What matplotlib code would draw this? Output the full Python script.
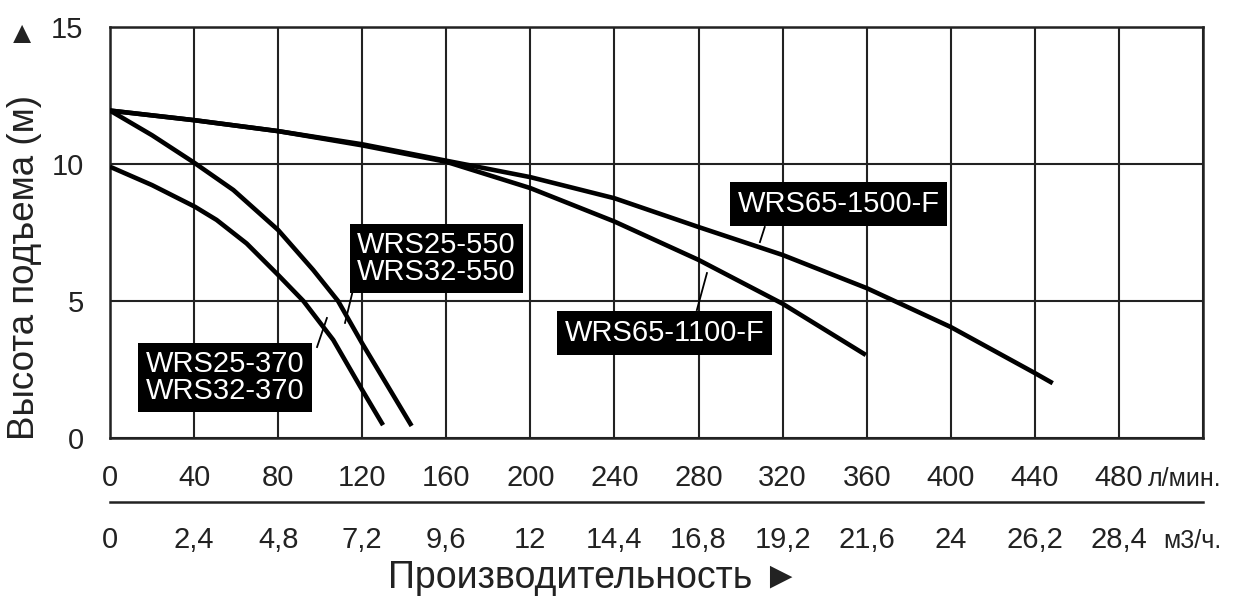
import matplotlib
matplotlib.use("Agg")
import matplotlib.pyplot as plt
import numpy as np

plt.rcParams['font.family'] = ['Liberation Sans', 'DejaVu Sans']

# ---- data ----
flow_lpm_ticks = [0, 40, 80, 120, 160, 200, 240, 280, 320, 360, 400, 440, 480]
flow_m3h_labels = ["0", "2,4", "4,8", "7,2", "9,6", "12", "14,4", "16,8",
                   "19,2", "21,6", "24", "26,2", "28,4"]
head_ticks = [0, 5, 10, 15]

x_370 = [0, 20, 40.4, 50.7, 65, 80, 92, 106.2, 120, 129.9]
y_370 = [9.9, 9.23, 8.44, 7.96, 7.1, 5.95, 5.0, 3.58, 1.75, 0.47]

x_550 = [0, 20, 40, 58.7, 80, 96.7, 108.5, 120, 143.5]
y_550 = [11.95, 11.05, 10.05, 9.05, 7.59, 6.13, 5.0, 3.45, 0.44]

x_1100 = [0, 40, 80, 120, 160, 200, 240, 280, 320, 359.6]
y_1100 = [11.95, 11.6, 11.2, 10.68, 10.08, 9.12, 7.9, 6.5, 4.9, 3.03]

x_1500 = [0, 40, 80, 120, 160, 200, 240, 280, 320, 360, 400, 440, 448.5]
y_1500 = [11.95, 11.6, 11.2, 10.72, 10.12, 9.52, 8.75, 7.7, 6.68, 5.47, 4.05, 2.37, 2.0]

label_370 = "WRS25-370\nWRS32-370"
label_550 = "WRS25-550\nWRS32-550"
label_1100 = "WRS65-1100-F"
label_1500 = "WRS65-1500-F"

# ---- figure ----
W, H = 1245, 605
fig = plt.figure(figsize=(W / 100, H / 100), dpi=100)
ax = fig.add_axes([110 / W, 1 - 438 / H, (1203 - 110) / W, (438 - 27) / H])
ax.set_xlim(0, 520)
ax.set_ylim(0, 15)

ax.set_xticks(np.arange(0, 521, 40))
ax.set_xticklabels([])
ax.set_yticks(head_ticks)
ax.set_yticklabels([str(v) for v in head_ticks], fontsize=21, color='#222')
ax.tick_params(axis='both', length=0)
ax.tick_params(axis='y', pad=19)
ax.grid(True, color='#222222', lw=1.5)
ax.set_axisbelow(True)
for s in ax.spines.values():
    s.set_color('#222222')
    s.set_linewidth(1.8)

curve_kw = dict(color='black', lw=3.3, solid_capstyle='butt', solid_joinstyle='round', zorder=3)
ax.plot(x_370, y_370, **curve_kw)
ax.plot(x_550, y_550, **curve_kw)
ax.plot(x_1100, y_1100, **curve_kw)
ax.plot(x_1500, y_1500, **curve_kw)

box = dict(boxstyle='square,pad=0.26', fc='black', ec='none')
tkw = dict(color='white', fontsize=21, ha='center', va='center', zorder=5,
           linespacing=0.92, bbox=box)
ax.text(346.7, 8.54, label_1500, **tkw)
ax.text(263.7, 3.83, label_1100, **tkw)
ax.text(155.3, 6.55, label_550, **tkw)
ax.text(54.9, 2.21, label_370, **tkw)

lkw = dict(color='black', lw=1.3, zorder=4)
ax.plot([311.5, 309.2], [7.7, 7.15], **lkw)
ax.plot([284.0, 279.2], [6.02, 4.67], **lkw)
ax.plot([115.6, 111.8], [5.4, 4.2], **lkw)
ax.plot([98.5, 103.2], [3.32, 4.38], **lkw)

# x labels, two rows
trans = matplotlib.transforms.blended_transform_factory(ax.transData, fig.transFigure)
for v in flow_lpm_ticks:
    ax.text(v, 1 - 478 / H, str(v), transform=trans, ha='center', va='center',
            fontsize=21, color='#222')
for v, lab in zip(flow_lpm_ticks, flow_m3h_labels):
    ax.text(v, 1 - 540 / H, lab, transform=trans, ha='center', va='center',
            fontsize=21, color='#222')

fig.text(1148 / W, 1 - 479 / H, "л/мин.", fontsize=18, ha='left', va='center', color='#222')
fig.text(1163 / W, 1 - 541 / H, "м3/ч.", fontsize=18, ha='left', va='center', color='#222')
fig.add_artist(matplotlib.lines.Line2D([110 / W, 1203 / W], [1 - 502 / H, 1 - 502 / H],
                                       color='#222', lw=1.8))

fig.text(594 / W, 1 - 578 / H, "Производительность ►", fontsize=27,
         ha='center', va='center', color='#222')
fig.text(25 / W, 1 - 267 / H, "Высота подъема (м)", fontsize=26.5, rotation=90,
         ha='center', va='center', color='#222')
fig.text(22 / W, 1 - 35 / H, "▲", fontsize=22, ha='center', va='center', color='#222')

fig.savefig("out.png", dpi=100, facecolor='white')
